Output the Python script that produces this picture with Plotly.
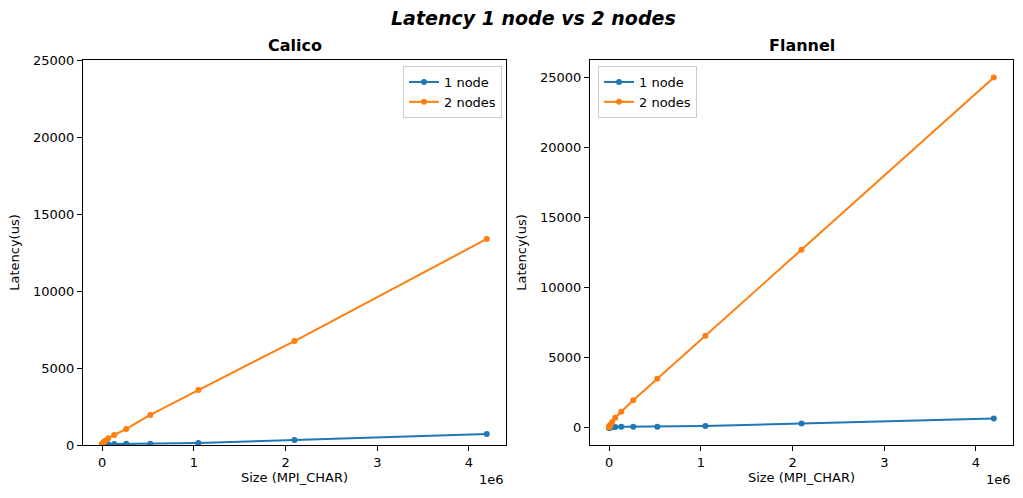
import plotly.graph_objects as go

sizes = [2**i for i in range(23)]

calico_1node = [0.5, 0.5, 0.5, 0.5, 0.6, 0.6, 0.7, 0.8, 1.0, 1.3, 2.0, 3.0, 5.0, 8.0, 14, 25,
                45, 60, 75, 80, 130, 325, 714]
calico_2nodes = [30, 30, 31, 31, 32, 33, 35, 38, 42, 50, 60, 75, 95, 130, 190, 280,
                 440, 650, 1040, 1950, 3570, 6750, 13380]

flannel_1node = [0.5, 0.5, 0.5, 0.5, 0.6, 0.6, 0.7, 0.8, 1.0, 1.3, 2.0, 3.0, 5.0, 8.0, 14, 22,
                 35, 45, 50, 55, 110, 280, 650]
flannel_2nodes = [35, 35, 36, 36, 37, 38, 40, 43, 48, 55, 65, 80, 100, 140, 210, 400,
                  700, 1120, 1950, 3480, 6550, 12700, 25000]

x_ticks = [0, 1e6, 2e6, 3e6, 4e6]
x_ticktext = ["0", "1", "2", "3", "4"]
y_ticks = [0, 5000, 10000, 15000, 20000, 25000]

BLUE = "#1f77b4"
ORANGE = "#ff7f0e"
FONT = "DejaVu Sans"

# plot area in pixels
L, R, T, B = 83, 1013, 60, 445
W, H = 1023, 498
PW, PH = R - L, B - T


def px(xp):
    return (xp - L) / PW


def py(yp):
    return (B - yp) / PH


fig = go.Figure()


def add(x, y, name, color, xa, ya, legend):
    fig.add_trace(go.Scatter(
        x=x, y=y, name=name, mode="lines+markers",
        line=dict(color=color, width=2),
        marker=dict(color=color, size=6),
        xaxis=xa, yaxis=ya, legend=legend,
    ))


add(sizes, calico_1node, "1 node", BLUE, "x", "y", "legend")
add(sizes, calico_2nodes, "2 nodes", ORANGE, "x", "y", "legend")
add(sizes, flannel_1node, "1 node", BLUE, "x2", "y2", "legend2")
add(sizes, flannel_2nodes, "2 nodes", ORANGE, "x2", "y2", "legend2")

xmax = sizes[-1]
xr = [-0.05 * xmax, 1.05 * xmax]

axis_common = dict(
    showline=True, linecolor="black", linewidth=1, mirror=True,
    ticks="outside", ticklen=5, tickcolor="black", tickwidth=1,
    showgrid=False, zeroline=False, automargin=False,
    tickfont=dict(family=FONT, size=13, color="black"),
)

fig.update_layout(
    width=W, height=H,
    margin=dict(l=L, r=W - R, t=T, b=H - B),
    paper_bgcolor="white", plot_bgcolor="white",
    font=dict(family=FONT, size=13, color="black"),
    xaxis=dict(domain=[0, px(506)], range=xr, tickvals=x_ticks, ticktext=x_ticktext,
               title=dict(text="Size (MPI_CHAR)", font=dict(size=13), standoff=3), anchor="y", **axis_common),
    yaxis=dict(domain=[0, 1], range=[0, 25000], tickvals=y_ticks, tickformat="d",
               title=dict(text="Latency(us)", font=dict(size=13), standoff=10), anchor="x", **axis_common),
    xaxis2=dict(domain=[px(590), 1], range=xr, tickvals=x_ticks, ticktext=x_ticktext,
                title=dict(text="Size (MPI_CHAR)", font=dict(size=13), standoff=3), anchor="y2", **axis_common),
    yaxis2=dict(domain=[0, 1], range=[-1250, 26250], tickvals=y_ticks, tickformat="d",
                title=dict(text="Latency(us)", font=dict(size=13), standoff=10), anchor="x2", **axis_common),
    legend=dict(x=px(502), y=py(66), xanchor="right", yanchor="top",
                bgcolor="rgba(255,255,255,0.8)", bordercolor="#cccccc", borderwidth=1,
                font=dict(size=13), itemwidth=30, tracegroupgap=0),
    legend2=dict(x=px(598), y=py(66), xanchor="left", yanchor="top",
                 bgcolor="rgba(255,255,255,0.8)", bordercolor="#cccccc", borderwidth=1,
                 font=dict(size=13), itemwidth=30, tracegroupgap=0),
    annotations=[
        dict(text="<b><i>Latency 1 node vs 2 nodes</i></b>", x=px(533), y=py(18),
             xref="paper", yref="paper", showarrow=False, font=dict(size=19), xanchor="center", yanchor="middle"),
        dict(text="<b>Calico</b>", x=px((83 + 506) / 2), y=py(46),
             xref="paper", yref="paper", showarrow=False, font=dict(size=16), xanchor="center", yanchor="middle"),
        dict(text="<b>Flannel</b>", x=px((590 + 1013) / 2), y=py(46),
             xref="paper", yref="paper", showarrow=False, font=dict(size=16), xanchor="center", yanchor="middle"),
        dict(text="1e6", x=px(506), y=py(479), xref="paper", yref="paper", showarrow=False,
             font=dict(size=13), xanchor="right", yanchor="middle"),
        dict(text="1e6", x=px(1013), y=py(479), xref="paper", yref="paper", showarrow=False,
             font=dict(size=13), xanchor="right", yanchor="middle"),
    ],
)

fig.write_html("out.html", config={"displayModeBar": False},
               post_script="document.body.style.margin='0';")
